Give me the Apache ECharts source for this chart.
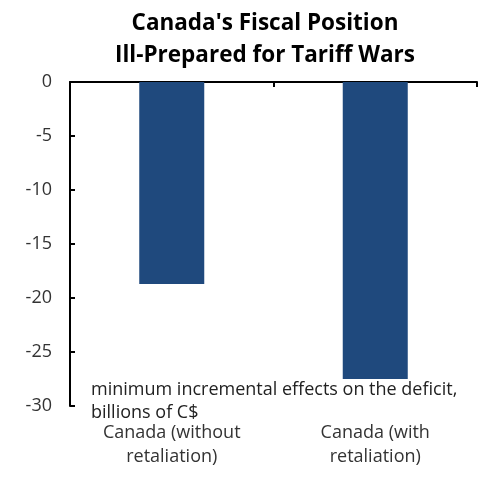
<!DOCTYPE html>
<html>
<head>
<meta charset="utf-8">
<script src="https://cdn.jsdelivr.net/npm/echarts@6/dist/echarts.min.js"></script>
<style>
  html, body { margin: 0; padding: 0; background: #fff; }
  #chart { width: 486px; height: 478px; }
</style>
</head>
<body>
<div id="chart"></div>
<script>
// Incremental effect of tariffs on the federal deficit (billions of C$)
const categories = ['Canada (without\nretaliation)', 'Canada (with\nretaliation)'];
const deficitEffect = [-18.7, -27.5];
const yMin = -30, yMax = 0, yStep = 5;
const titleLines = "Canada's Fiscal Position\nIll-Prepared for Tariff Wars";
const unitNote = 'minimum incremental effects on the deficit,\nbillions of C$';

const FONT = '"Open Sans"';
const chart = echarts.init(document.getElementById('chart'), null, { renderer: 'canvas' });

chart.setOption({
  backgroundColor: '#ffffff',
  animation: false,
  title: {
    text: titleLines,
    left: 260,
    top: 3,
    textAlign: 'center',
    textStyle: {
      fontFamily: FONT,
      fontWeight: 'bold',
      fontSize: 22.5,
      lineHeight: 32,
      color: '#000000'
    }
  },
  grid: { left: 70, right: 9, top: 82, bottom: 72, containLabel: false },
  xAxis: [
    {
      type: 'category',
      data: categories,
      position: 'top',
      boundaryGap: true,
      axisLine: { show: true, onZero: false, lineStyle: { color: '#000', width: 2 } },
      axisTick: { show: true, inside: true, length: 5, lineStyle: { color: '#000', width: 2 } },
      axisLabel: { show: false },
      splitLine: { show: false }
    },
    {
      type: 'category',
      data: categories,
      position: 'bottom',
      boundaryGap: true,
      axisLine: { show: false, onZero: false },
      axisTick: { show: false },
      axisLabel: {
        show: true,
        margin: 15,
        fontFamily: FONT,
        fontSize: 18,
        lineHeight: 24,
        color: '#333333',
        align: 'center'
      },
      splitLine: { show: false }
    }
  ],
  yAxis: {
    type: 'value',
    min: yMin,
    max: yMax,
    interval: yStep,
    axisLine: { show: true, lineStyle: { color: '#000', width: 2 } },
    axisTick: { show: true, inside: true, length: 5, lineStyle: { color: '#000', width: 2 } },
    axisLabel: {
      margin: 18,
      fontFamily: FONT,
      fontSize: 18,
      color: '#333333'
    },
    splitLine: { show: false }
  },
  graphic: [
    {
      type: 'text',
      left: 91,
      top: 378,
      style: {
        text: unitNote,
        font: '18px ' + FONT,
        lineHeight: 23,
        fill: '#222222'
      }
    }
  ],
  series: [
    {
      type: 'bar',
      xAxisIndex: 0,
      data: deficitEffect,
      barWidth: 65,
      itemStyle: { color: '#1f497d' }
    }
  ]
});
</script>
</body>
</html>
